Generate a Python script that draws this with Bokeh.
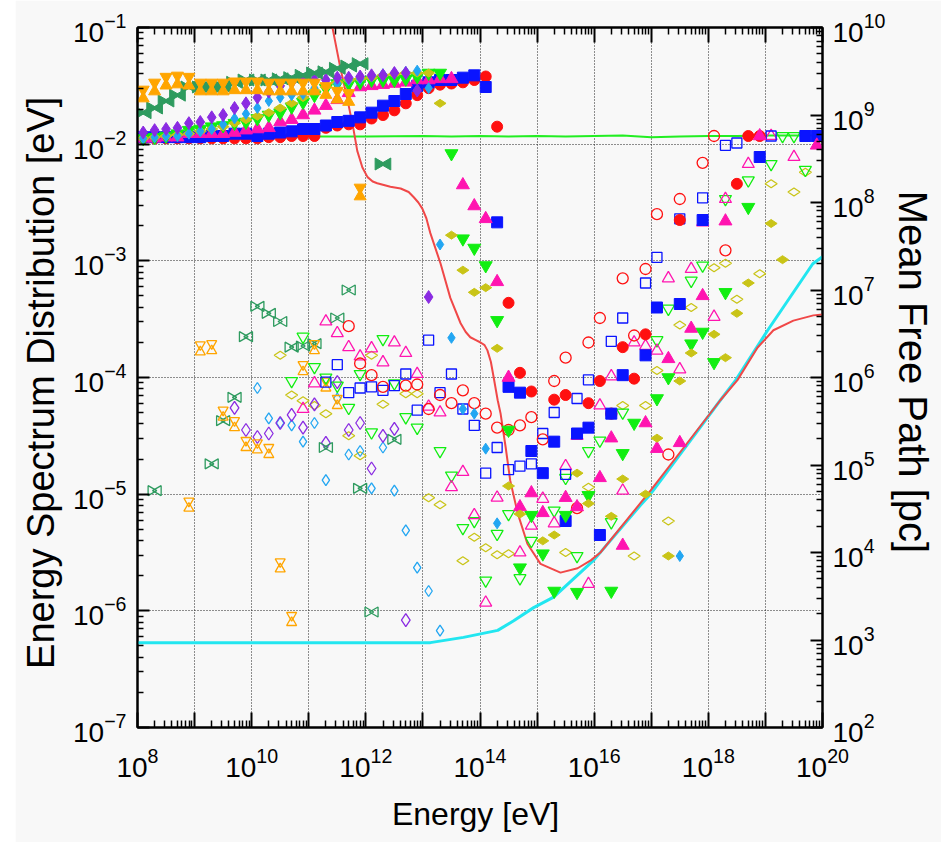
import numpy as np
from bokeh.plotting import figure
from bokeh.layouts import row
from bokeh.models import Range1d, LogAxis, LogScale, FixedTicker, LogTickFormatter, Spacer
from bokeh.embed import file_html
from bokeh.resources import INLINE

# ---------------- data: log10 values ----------------
# shared energy grid of the low-energy band, log10(E / eV)
band_E = [8.1, 8.3, 8.5, 8.7, 8.9, 9.1, 9.3, 9.5, 9.7, 9.9, 10.1, 10.3, 10.5, 10.7, 10.9,
          11.1, 11.3, 11.5, 11.7, 11.9, 12.1, 12.3, 12.5, 12.7, 12.9, 13.1, 13.3, 13.5,
          13.7, 13.9, 14.1, 14.3]

# orange hourglass
orange_f_E = band_E[:20]
orange_f_S = [-1.57, -1.51, -1.46, -1.45, -1.46, -1.51, -1.51, -1.51, -1.50, -1.50, -1.50,
              -1.51, -1.51, -1.51, -1.51, -1.51, -1.54, -1.58, -1.60, -2.41]
orange_o_E = [8.9, 9.1, 9.3, 9.5, 9.7, 9.9, 10.1, 10.3, 10.5, 10.7, 10.9, 11.1, 11.3, 11.5]
orange_o_S = [-5.09, -3.75, -3.74, -4.31, -4.40, -4.57, -4.59, -4.63, -5.61, -6.07, -3.92,
              -3.74, -4.06, -4.21]

# green bowtie
green_f_E = band_E[:20] + [12.3]
green_f_S = [-1.73, -1.69, -1.63, -1.58, -1.51, -1.51, -1.51, -1.51, -1.47, -1.45, -1.45,
             -1.45, -1.44, -1.43, -1.41, -1.39, -1.38, -1.35, -1.33, -1.31, -2.17]
green_o_E = [8.3, 9.3, 9.5, 9.7, 9.9, 10.1, 10.3, 10.5, 10.7, 10.9, 11.1, 11.3, 11.5, 11.7,
             11.9, 12.1, 12.5]
green_o_S = [-4.97, -4.74, -4.37, -4.17, -3.65, -3.39, -3.45, -3.52, -3.74, -3.73, -3.71,
             -4.60, -3.49, -3.25, -4.95, -6.01, -4.53]

# purple diamond
purple_f_E = band_E[:26]
purple_f_S = [-1.90, -1.88, -1.87, -1.86, -1.82, -1.81, -1.77, -1.75, -1.69, -1.65, -1.60,
              -1.55, -1.50, -1.47, -1.45, -1.45, -1.45, -1.43, -1.43, -1.42, -1.41, -1.41,
              -1.39, -1.39, -1.54, -3.31]
purple_o_E = [9.7, 9.9, 10.1, 10.3, 10.5, 10.7, 10.9, 11.1, 11.3, 11.5, 11.7, 11.9, 12.1,
              12.3, 12.5, 12.7]
purple_o_S = [-4.26, -4.45, -4.51, -4.48, -4.39, -4.32, -4.43, -4.23, -4.56, -4.04, -4.45,
              -4.39, -4.78, -4.50, -4.44, -6.08]

# light-blue thin diamond
sky_f_E = band_E + [17.5]
sky_f_S = [-1.95, -1.94, -1.93, -1.93, -1.91, -1.89, -1.87, -1.83, -1.78, -1.74, -1.69,
           -1.63, -1.60, -1.58, -1.57, -1.52, -1.50, -1.48, -1.45, -1.44, -1.42, -1.40,
           -1.39, -1.38, -1.37, -1.52, -2.86, -3.66, -4.27, -4.31, -4.61, -5.25, -5.53]
sky_o_E = [10.1, 10.3, 10.5, 10.7, 10.9, 11.1, 11.3, 11.5, 11.7, 11.9, 12.1, 12.3, 12.5,
           12.7, 12.9, 13.1, 13.3]
sky_o_S = [-4.09, -4.35, -4.39, -4.41, -4.55, -4.39, -4.88, -4.18, -4.66, -4.63, -4.95,
           -4.60, -4.97, -5.31, -5.63, -5.83, -6.17]

# olive thin diamond
olive_f_E = band_E[:27] + [13.5, 13.7, 13.9, 14.1, 14.3, 14.5, 14.7, 15.1, 15.3, 15.7, 15.9,
                           16.3, 16.5, 16.9, 17.1, 17.3, 17.5, 17.7, 18.1, 18.3, 18.5, 18.7,
                           19.1, 19.3]
olive_f_S = [-1.95, -1.94, -1.93, -1.92, -1.91, -1.89, -1.87, -1.85, -1.82, -1.79, -1.76,
             -1.73, -1.69, -1.65, -1.60, -1.54, -1.51, -1.47, -1.45, -1.44, -1.43, -1.41,
             -1.40, -1.39, -1.39, -1.39, -1.65,
             -2.78, -3.08, -3.27, -3.23, -3.75, -4.93, -5.17, -5.40, -5.35, -4.82, -5.08,
             -5.19, -4.87, -5.00, -4.52, -5.53, -4.03, -3.79, -3.63, -3.83, -3.45, -3.19,
             -2.68, -2.99]
olive_o_E = [10.5, 10.7, 10.9, 11.1, 11.3, 11.7, 11.9, 12.1, 12.3, 12.7, 12.9, 13.1, 13.3,
             13.7, 13.9, 14.1, 14.3, 14.5, 15.5, 15.9, 16.5, 16.7, 16.9, 17.1, 17.3, 17.5,
             17.7, 18.1, 18.3, 18.5, 18.9, 19.1, 19.5, 19.7]
olive_o_S = [-3.81, -4.15, -4.20, -4.24, -4.31, -4.50, -4.67, -3.81, -4.23, -4.14, -4.14,
             -5.03, -5.09, -5.57, -5.37, -5.46, -5.52, -5.51, -5.50, -4.94, -4.24, -5.53,
             -4.24, -3.94, -5.23, -3.55, -3.40, -3.06, -3.02, -3.33, -3.11, -2.34, -2.41,
             -2.24]

# lime inverted triangle
lime_f_E = band_E[:27] + [13.5, 13.7, 13.9, 14.1, 14.3, 14.5, 14.7, 14.9, 15.1, 15.3, 15.5,
                          15.7, 15.9, 16.3, 16.5, 16.7, 17.1, 17.3, 17.7, 17.9, 18.1, 18.3,
                          18.7]
lime_f_S = [-1.95, -1.94, -1.93, -1.91, -1.88, -1.87, -1.85, -1.84, -1.82, -1.81, -1.78,
            -1.75, -1.73, -1.68, -1.64, -1.58, -1.52, -1.48, -1.48, -1.47, -1.45, -1.45,
            -1.45, -1.44, -1.42, -1.39, -1.39,
            -2.08, -2.81, -2.89, -3.04, -3.51, -4.45, -5.63, -5.18, -5.51, -5.83, -5.18,
            -5.84, -5.01, -5.83, -4.65, -4.39, -4.18, -4.00, -3.71, -3.61, -3.87, -3.27,
            -2.54]
lime_o_E = [10.7, 10.9, 11.1, 11.3, 11.5, 11.7, 11.9, 12.1, 12.3, 12.5, 12.7, 12.9, 13.3,
            13.5, 13.7, 13.9, 14.1, 14.3, 14.5, 14.7, 14.9, 15.3, 15.5, 15.7, 15.9, 16.1,
            16.3, 16.5, 17.1, 17.3, 17.7, 17.9, 18.3, 18.7, 19.1, 19.3, 19.5, 19.7]
lime_o_S = [-4.03, -3.65, -3.91, -4.00, -4.07, -4.26, -3.97, -4.47, -3.67, -4.05, -4.34,
            -4.43, -4.63, -4.84, -5.29, -5.23, -5.74, -5.34, -5.17, -5.72, -5.40, -5.14,
            -4.86, -5.53, -4.63, -4.54, -5.24, -4.30, -3.68, -3.41, -3.17, -3.04, -2.47,
            -2.31, -2.17, -1.93, -1.93, -2.22]

# magenta triangle
pink_f_E = band_E[:28] + [13.7, 13.9, 14.1, 14.3, 14.5, 14.7, 14.9, 15.1, 15.5, 15.7, 16.1,
                          16.3, 16.5, 16.9, 17.1, 17.3, 17.5, 17.7, 17.9, 18.3, 18.9, 19.9]
pink_f_S = [-1.95, -1.95, -1.94, -1.94, -1.91, -1.91, -1.91, -1.91, -1.90, -1.88, -1.87,
            -1.86, -1.81, -1.79, -1.75, -1.71, -1.67, -1.62, -1.56, -1.51, -1.50, -1.49,
            -1.48, -1.47, -1.45, -1.45, -1.44, -1.44,
            -2.35, -2.53, -2.64, -3.18, -4.00, -5.11, -4.99, -5.16, -5.03, -5.11, -4.86,
            -4.52, -5.44, -4.39, -4.61, -3.84, -4.56, -3.58, -3.30, -2.66, -1.93, -2.01]
pink_o_E = [10.9, 11.1, 11.3, 11.5, 11.7, 11.9, 12.1, 12.3, 12.5, 12.7, 12.9, 13.1, 13.3,
            13.5, 13.7, 13.9, 14.1, 14.3, 14.7, 14.9, 15.1, 15.3, 15.5, 15.7, 15.9, 16.1,
            16.3, 16.5, 16.7, 16.9, 17.1, 17.3, 17.5, 17.7, 17.9, 18.1, 18.3, 18.7, 19.1,
            19.5]
pink_o_S = [-4.27, -4.05, -3.52, -3.62, -3.74, -3.82, -3.75, -3.87, -3.70, -3.79, -3.97,
            -4.25, -4.30, -4.94, -4.81, -5.18, -5.93, -5.03, -5.50, -5.27, -5.04, -5.25,
            -4.76, -4.50, -5.77, -4.24, -3.99, -4.97, -3.70, -3.73, -3.77, -3.15, -3.93,
            -3.07, -2.67, -3.48, -2.47, -2.17, -1.93, -2.11]

# blue square
blue_f_E = band_E[:31] + [14.3, 14.5, 14.7, 14.9, 15.1, 15.3, 15.5, 15.7, 15.9, 16.1, 16.3,
                          16.5, 16.9, 17.1, 17.5, 17.9, 18.9, 19.7, 19.9]
blue_f_S = [-1.94, -1.94, -1.94, -1.94, -1.94, -1.94, -1.93, -1.93, -1.91, -1.91, -1.93,
            -1.91, -1.90, -1.89, -1.87, -1.87, -1.84, -1.81, -1.80, -1.77, -1.73, -1.67,
            -1.63, -1.57, -1.50, -1.47, -1.45, -1.45, -1.43, -1.41, -1.51,
            -2.67, -4.08, -4.13, -4.63, -4.82, -4.55, -5.23, -4.48, -4.43, -5.35, -4.31,
            -3.98, -3.81, -3.40, -3.37, -2.65, -2.11, -1.93, -1.93]
blue_o_E = [11.3, 11.5, 11.7, 11.9, 12.1, 12.3, 12.5, 12.7, 12.9, 13.1, 13.3, 13.5, 13.7,
            13.9, 14.1, 14.3, 14.5, 14.7, 14.9, 15.1, 15.3, 15.5, 15.7, 15.9, 16.3, 16.5,
            16.9, 17.1, 17.5, 17.9, 18.3, 18.5, 19.1]
blue_o_S = [-4.04, -3.89, -4.13, -4.09, -4.08, -4.11, -4.07, -3.97, -4.28, -3.68, -4.13,
            -3.97, -4.27, -4.41, -4.82, -4.60, -4.79, -4.76, -4.74, -4.48, -4.30, -4.83,
            -4.18, -4.02, -3.69, -3.49, -3.19, -2.97, -2.64, -2.46, -2.01, -1.99, -1.93]

# red circle
red_f_E = band_E + [14.5, 14.7, 14.9, 15.3, 15.5, 15.9, 16.1, 16.5, 16.7, 16.9, 17.5, 18.5,
                    18.7, 18.9]
red_f_S = [-1.95, -1.95, -1.95, -1.95, -1.95, -1.95, -1.95, -1.95, -1.95, -1.95, -1.95,
           -1.94, -1.94, -1.93, -1.93, -1.93, -1.86, -1.84, -1.83, -1.83, -1.78, -1.75,
           -1.71, -1.65, -1.58, -1.52, -1.49, -1.48, -1.47, -1.45, -1.42, -1.85,
           -3.36, -3.96, -4.12, -4.19, -4.15, -4.22, -4.03, -3.74, -4.01, -3.63, -2.65,
           -2.34, -1.93, -1.93]
red_o_E = [11.7, 11.9, 12.1, 12.3, 12.7, 12.9, 13.1, 13.3, 13.5, 13.7, 13.9, 14.1, 14.3,
           14.5, 14.7, 14.9, 15.1, 15.3, 15.5, 15.7, 15.9, 16.1, 16.3, 16.5, 16.7, 16.9,
           17.1, 17.3, 17.5, 17.9, 18.1, 18.3]
red_o_S = [-3.56, -3.88, -3.98, -4.08, -4.07, -4.06, -4.27, -4.15, -4.22, -4.11, -4.22,
           -4.31, -4.43, -4.45, -4.41, -4.34, -4.53, -4.03, -3.83, -5.12, -3.70, -3.49,
           -4.31, -3.15, -3.64, -3.07, -2.60, -4.66, -2.47, -2.16, -1.93, -2.91]

# curves: green (left axis), red and cyan mean free path (right axis)
green_line_E = [8.0, 9.0, 10.0, 11.0, 12.0, 13.0, 13.5, 14.0, 14.5, 15.0, 15.5, 16.0, 16.5,
                17.0, 17.5, 18.0, 18.5, 19.0, 20.0]
green_line_S = [-1.945, -1.94, -1.94, -1.935, -1.935, -1.93, -1.935, -1.93, -1.935, -1.93,
                -1.935, -1.93, -1.925, -1.94, -1.935, -1.93, -1.93, -1.925, -1.925]
red_line_E = [11.40, 11.55, 11.68, 11.78, 11.85, 11.94, 12.03, 12.12, 12.20, 12.43, 12.61,
              12.75, 12.84, 12.92, 12.99, 13.06, 13.13, 13.31, 13.48, 13.66, 13.75, 13.83,
              13.92, 14.01, 14.08, 14.13, 14.19, 14.24, 14.31, 14.36, 14.45, 14.53, 14.66,
              14.83, 15.06, 15.41, 15.71, 15.94, 16.11, 16.99, 17.57, 18.21, 18.51, 18.86,
              19.14, 19.49, 19.84, 20.0]
red_line_L = [10.05, 9.55, 9.17, 8.85, 8.59, 8.40, 8.29, 8.24, 8.22, 8.18, 8.16, 8.12, 8.06,
              8.00, 7.93, 7.82, 7.65, 7.30, 6.91, 6.62, 6.52, 6.46, 6.43, 6.40, 6.37, 6.31,
              6.18, 6.00, 5.74, 5.59, 5.20, 4.82, 4.45, 4.10, 3.87, 3.77, 3.82, 3.91, 4.00,
              4.71, 5.20, 5.74, 5.97, 6.34, 6.54, 6.65, 6.71, 6.72]
cyan_line_E = [8.0, 13.13, 13.71, 14.31, 14.59, 14.94, 15.29, 15.99, 16.81, 16.99, 18.21,
               18.48, 19.04, 19.83, 20.0]
cyan_line_L = [2.97, 2.97, 3.03, 3.11, 3.22, 3.37, 3.49, 3.91, 4.54, 4.67, 5.74, 5.97, 6.54,
               7.30, 7.38]

# ---------------- figure ----------------
PAD = 15
W, H = 941 - PAD, 842
B_L, B_R, B_T, B_B = 137 - PAD, 119, 27, 115
X_DEC = (W - B_L - B_R) / 12.0   # px per decade (x)
Y_DEC = (H - B_T - B_B) / 6.0    # px per decade (left y)
BG = "#f8f8f8"
SANS = "Liberation Sans"

p = figure(width=W, height=H, x_axis_type="log", y_axis_type="log",
           x_range=Range1d(1e8, 1e20), y_range=Range1d(1e-7, 1e-1),
           output_backend="svg", toolbar_location=None,
           min_border_left=B_L, min_border_right=B_R, min_border_top=B_T,
           min_border_bottom=B_B, background_fill_color=BG, border_fill_color=BG)
p.extra_y_ranges = {"mfp": Range1d(1e2, 1e10)}
p.extra_y_scales = {"mfp": LogScale()}

x_major = [10.0 ** k for k in range(8, 21)]
x_minor = [m * 10.0 ** k for k in range(8, 20) for m in range(2, 10)]
y_major = [10.0 ** k for k in range(-7, 0)]
y_minor = [m * 10.0 ** k for k in range(-7, -1) for m in range(2, 10)]
r_major = [10.0 ** k for k in range(2, 11)]
r_minor = [m * 10.0 ** k for k in range(2, 10) for m in range(2, 10)]

xax = p.below[0]
yax = p.left[0]
right = LogAxis(y_range_name="mfp", axis_label="Mean Free Path  [pc]")
p.add_layout(right, "right")
top = LogAxis()
p.add_layout(top, "above")

xax.ticker = FixedTicker(ticks=x_major, minor_ticks=x_minor)
top.ticker = FixedTicker(ticks=x_major, minor_ticks=x_minor)
yax.ticker = FixedTicker(ticks=y_major, minor_ticks=y_minor)
right.ticker = FixedTicker(ticks=r_major, minor_ticks=r_minor)
for ax in (xax, top, yax, right):
    ax.formatter = LogTickFormatter()
    ax.axis_line_width = 2
    ax.axis_line_color = "black"
    ax.major_tick_out = 0
    ax.minor_tick_out = 0
    ax.major_tick_line_width = 2
    ax.minor_tick_line_width = 1.5
    ax.major_tick_line_color = "black"
    ax.minor_tick_line_color = "black"
    ax.major_label_text_font = SANS
    ax.major_label_text_font_size = "28px"
    ax.major_label_text_color = "black"
    ax.axis_label_text_font = SANS
    ax.axis_label_text_font_style = "normal"
    ax.axis_label_text_color = "black"
for ax in (xax, top):
    ax.major_tick_in = 15
    ax.minor_tick_in = 7
for ax in (yax, right):
    ax.major_tick_in = 12
    ax.minor_tick_in = 6

xax.major_label_overrides = {10.0 ** k: "" for k in range(9, 21, 2)}
xax.major_label_standoff = 20
xax.axis_label = "Energy  [eV]"
xax.axis_label_text_font_size = "32px"
xax.axis_label_standoff = 16

top.major_label_text_font_size = "8px"
top.major_label_text_alpha = 0
top.major_label_standoff = 0

yax.major_label_standoff = 11
yax.axis_label = "Energy Spectrum Distribution  [eV]"
yax.axis_label_text_font_size = "38px"
yax.axis_label_standoff = 8

right.major_label_standoff = 10
right.axis_label_text_font_size = "40px"
right.axis_label_standoff = 3

p.outline_line_color = "black"
p.outline_line_width = 2
p.xgrid.ticker = FixedTicker(ticks=x_major)
p.ygrid.ticker = FixedTicker(ticks=y_major)
p.grid.grid_line_color = "#222222"
p.grid.grid_line_dash = "1 2"
p.grid.grid_line_width = 1


def pw(a):
    return np.power(10.0, np.asarray(a, dtype=float))


# curves
p.line(pw(green_line_E), pw(green_line_S), line_color="#22ee22", line_width=2)
p.line(pw(cyan_line_E), pw(cyan_line_L), y_range_name="mfp", line_color="#22e6f0", line_width=3)
p.line(pw(red_line_E), pw(red_line_L), y_range_name="mfp", line_color="#f04848", line_width=2)


def mark(lE, lS, marker, color, size, filled, angle=0.0):
    p.scatter(pw(lE), pw(lS), marker=marker, size=size, angle=angle,
              line_color=color, line_width=1.0 if filled else 1.3,
              fill_color=color if filled else None)


def hourglass(lE, lS, color, size, filled, gap=0.42):
    d = gap * 0.866 * size / Y_DEC
    mark(lE, np.asarray(lS) + d, "inverted_triangle", color, size, filled)
    mark(lE, np.asarray(lS) - d, "triangle", color, size, filled)


def bowtie(lE, lS, color, size, filled, gap=0.42):
    d = gap * 0.866 * size / X_DEC
    mark(np.asarray(lE) - d, lS, "triangle", color, size, filled, angle=-np.pi / 2)
    mark(np.asarray(lE) + d, lS, "triangle", color, size, filled, angle=np.pi / 2)


ORANGE, GREEN, PURPLE, SKY = "#ffa500", "#2e9b5f", "#8a2be2", "#22a6f2"
OLIVE, LIME, PINK, BLUE, RED = "#c9c417", "#11ee11", "#ff14b0", "#0a14ff", "#ff1010"

# open symbols
mark(olive_o_E, olive_o_S, "diamond", OLIVE, 12, False, angle=np.pi / 2)
mark(sky_o_E, sky_o_S, "diamond", SKY, 11, False)
mark(purple_o_E, purple_o_S, "diamond", PURPLE, 13, False)
bowtie(green_o_E, green_o_S, GREEN, 10, False)
hourglass(orange_o_E, orange_o_S, ORANGE, 10, False)
mark(lime_o_E, lime_o_S, "inverted_triangle", LIME, 12, False)
mark(pink_o_E, pink_o_S, "triangle", PINK, 12, False)
mark(blue_o_E, blue_o_S, "square", BLUE, 10, False)
mark(red_o_E, red_o_S, "circle", RED, 11, False)

# filled symbols
mark(red_f_E, red_f_S, "circle", RED, 11, True)
mark(blue_f_E, blue_f_S, "square", BLUE, 11, True)
mark(pink_f_E, pink_f_S, "triangle", PINK, 13, True)
mark(lime_f_E, lime_f_S, "inverted_triangle", LIME, 13, True)
mark(olive_f_E, olive_f_S, "diamond", OLIVE, 12, True, angle=np.pi / 2)
mark(sky_f_E, sky_f_S, "diamond", SKY, 11, True)
mark(purple_f_E, purple_f_S, "diamond", PURPLE, 13, True)
bowtie(green_f_E, green_f_S, GREEN, 12, True)
hourglass(orange_f_E, orange_f_S, ORANGE, 12, True)

page = row(Spacer(width=PAD, height=H), p)
open("out.html", "w").write(file_html(page, INLINE))
